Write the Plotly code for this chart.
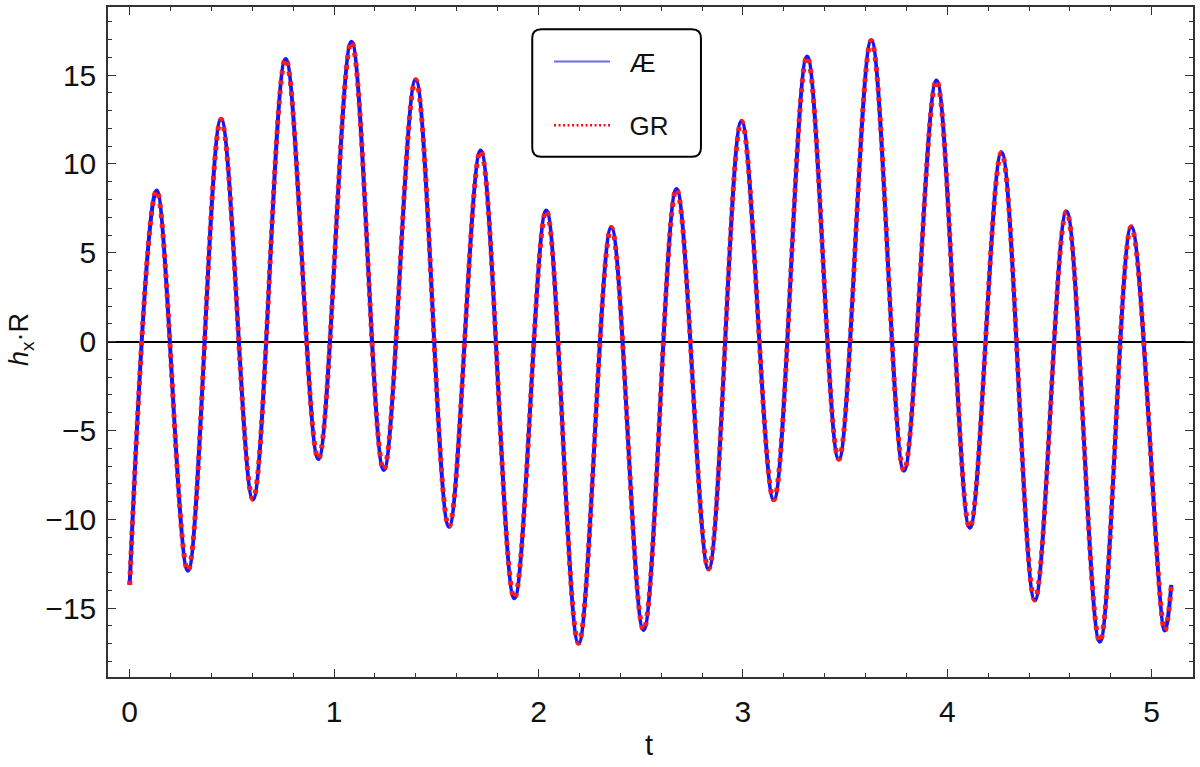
import plotly.graph_objects as go

# Extrema of the waveform (t, h_x*R), plus the end points
t_vals = [0.0, 0.132, 0.285, 0.447, 0.603, 0.763, 0.923, 1.085, 1.243, 1.399,
          1.562, 1.717, 1.882, 2.038, 2.196, 2.356, 2.514, 2.675, 2.832, 2.993,
          3.151, 3.314, 3.469, 3.628, 3.788, 3.947, 4.110, 4.265, 4.428, 4.583,
          4.746, 4.900, 5.064, 5.096]
h_vals = [-13.69, 8.50, -12.89, 12.51, -8.87, 15.91, -6.60, 16.88, -7.22, 14.73,
          -10.41, 10.75, -14.44, 7.38, -16.97, 6.42, -16.22, 8.59, -12.79, 12.40,
          -8.90, 16.04, -6.62, 16.94, -7.26, 14.69, -10.47, 10.64, -14.54, 7.32,
          -16.88, 6.47, -16.26, -13.69]

series_names = ["Æ", "GR"]
x_ticks = [0, 1, 2, 3, 4, 5]
y_ticks = [-15, -10, -5, 0, 5, 10, 15]

FONT = "Liberation Sans, Arial, sans-serif"
NB = "\u00a0\u00a0"

fig = go.Figure()
# plotted curves
fig.add_trace(go.Scatter(
    x=t_vals, y=h_vals, mode="lines", name=series_names[0], showlegend=False,
    line=dict(color="#1414ff", width=4, shape="spline", smoothing=1.0),
))
fig.add_trace(go.Scatter(
    x=t_vals, y=h_vals, mode="lines", name=series_names[1], showlegend=False,
    line=dict(color="#ff1a1a", width=5, dash="4px,6px", shape="spline", smoothing=1.0),
))
# legend entries (styled like the reference legend swatches)
fig.add_trace(go.Scatter(
    x=[None], y=[None], mode="lines", name=NB + series_names[0],
    line=dict(color="#6a6aee", width=2), legendgroup="a",
))
fig.add_trace(go.Scatter(
    x=[None], y=[None], mode="lines", name=NB + series_names[1],
    line=dict(color="#ee1111", width=2.5, dash="2px,2.5px"), legendgroup="b",
))

# legend frame with rounded corners (paper coords)
x0, x1, y0, y1 = 0.391, 0.5465, 0.7766, 0.9667
rx, ry = 9 / 1085, 9 / 670
path = (f"M {x0+rx},{y1} L {x1-rx},{y1} Q {x1},{y1} {x1},{y1-ry} "
        f"L {x1},{y0+ry} Q {x1},{y0} {x1-rx},{y0} L {x0+rx},{y0} "
        f"Q {x0},{y0} {x0},{y0+ry} L {x0},{y1-ry} Q {x0},{y1} {x0+rx},{y1} Z")
fig.add_shape(type="path", path=path, xref="paper", yref="paper",
              line=dict(color="black", width=2), fillcolor="white", layer="above")

axis_common = dict(
    showline=True, linecolor="#333333", linewidth=1.5, mirror="ticks",
    ticks="inside", ticklen=8, tickwidth=1.2, tickcolor="#333333",
    showgrid=False, automargin=False,
    tickfont=dict(family=FONT, size=30, color="#111111"),
)

fig.update_xaxes(
    range=[-0.106, 5.202], tickvals=x_ticks, zeroline=False,
    minor=dict(dtick=0.2, ticks="inside", ticklen=4, tickwidth=1, tickcolor="#333333", showgrid=False),
    ticklabelstandoff=7,
    **axis_common,
)
fig.update_yaxes(
    range=[-18.87, 18.83], tickvals=y_ticks,
    zeroline=True, zerolinecolor="black", zerolinewidth=1.5,
    minor=dict(dtick=1, ticks="inside", ticklen=4, tickwidth=1, tickcolor="#333333", showgrid=False),
    ticklabelstandoff=4,
    **axis_common,
)

# axis titles
fig.add_annotation(text="t", xref="paper", yref="paper", x=(649 - 108) / 1085, y=(677 - 745) / 670,
                   xanchor="center", yanchor="middle", showarrow=False,
                   font=dict(family=FONT, size=29, color="#111111"))
fig.add_annotation(text="<i>h</i><sub>x</sub>·R", xref="paper", yref="paper",
                   x=(21 - 108) / 1085, y=(677 - 340) / 670, textangle=-90,
                   xanchor="center", yanchor="middle", showarrow=False,
                   font=dict(family=FONT, size=27, color="#111111"))

fig.update_layout(
    width=1200, height=767,
    margin=dict(l=108, r=7, t=7, b=90, autoexpand=False),
    paper_bgcolor="white", plot_bgcolor="white",
    showlegend=True,
    legend=dict(
        x=0.4065, y=0.9537, xanchor="left", yanchor="top",
        bgcolor="rgba(0,0,0,0)", borderwidth=0,
        font=dict(family=FONT, size=26, color="#111111"),
        tracegroupgap=27, itemwidth=56,
    ),
)

fig.write_html("out.html", config={"displayModeBar": False},
               post_script="document.body.style.margin='0px';")
